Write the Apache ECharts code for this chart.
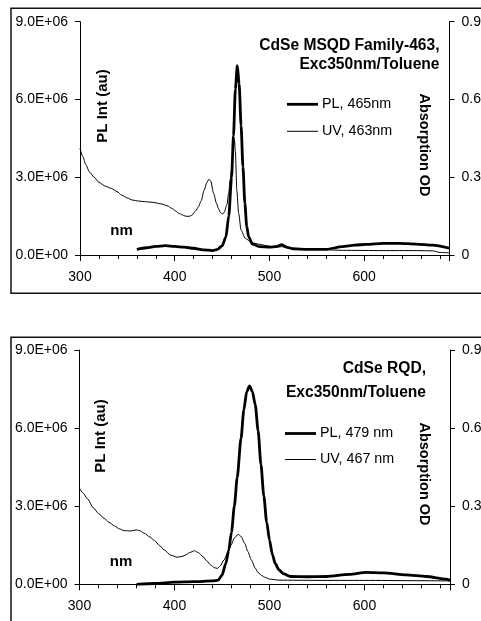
<!DOCTYPE html>
<html>
<head>
<meta charset="utf-8">
<script src="https://cdn.jsdelivr.net/npm/echarts@6/dist/echarts.min.js"></script>
<style>
html,body{margin:0;padding:0;background:#fff;}
#chart{width:481px;height:621px;}
</style>
</head>
<body>
<div id="chart"></div>
<script>
// ---------- data ----------
const X_TICKS = [300, 400, 500, 600];
const LEFT_TICKS = ['0.0E+00', '3.0E+06', '6.0E+06', '9.0E+06'];
const RIGHT_TICKS = ['0', '0.3', '0.6', '0.9'];

// Panel 1: CdSe MSQD Family-463
const PL1_NM = [360,370,380,390,400,410,420,430,440,445,450,454,457,460,462,464,466,468,470,472,474,476,478,482,490,500,508,513,518,525,540,560,577,590,602,620,637,655,672,690];
const PL1_VAL = [220000,280000,330000,360000,330000,300000,260000,200000,170000,220000,350000,700000,1500000,3000000,4600000,6400000,7300000,6600000,5000000,3400000,2000000,1100000,700000,420000,320000,300000,330000,400000,300000,240000,220000,220000,320000,380000,410000,450000,450000,420000,380000,260000];
const UV1_NM = [300,303,306,310,315,320,327,333,339,344,350,355,362,368,377,386,392,397,401,404,408,411,415,418,422,425,428,431,434,436,438,441,444,446,448,450,452,455,457,458.5,460,461,462,463,464,465.5,467.5,470,474.5,481.5,490,497,505,513,520,540,577,620,655,672,680,690];
const UV1_OD = [0.412,0.38,0.35,0.32,0.30,0.28,0.265,0.257,0.245,0.231,0.22,0.212,0.208,0.206,0.203,0.197,0.19,0.18,0.17,0.161,0.155,0.15,0.149,0.153,0.17,0.186,0.21,0.25,0.28,0.292,0.285,0.238,0.2,0.18,0.165,0.158,0.163,0.193,0.24,0.289,0.33,0.379,0.42,0.444,0.4,0.25,0.16,0.096,0.064,0.047,0.041,0.036,0.03,0.032,0.027,0.024,0.018,0.017,0.017,0.016,0.01,0.008];

// Panel 2: CdSe RQD
const PL2_NM = [360,380,400,420,440,446,450,454,457,460,463,466,470,473,476,479,482,485,488,491,494,497,500,503,506,510,515,522,540,560,584,602,620,644,665,686,690];
const PL2_VAL = [0,30000,80000,100000,130000,160000,350000,800000,1300000,2000000,3000000,4100000,5600000,6700000,7400000,7620000,7400000,6900000,5900000,4600000,3400000,2400000,1700000,1150000,800000,550000,400000,300000,290000,300000,380000,460000,440000,360000,300000,200000,150000];
const UV2_NM = [300,304,308,315,320,326,331,337,342,347,354,360,364,368,374,379,384,389,396,403,408,412,416,421,425,430,434,438,442,445,448,452,456,459.6,463,467,470,474,477,481,485,488,492,495,500,510,550,600,650,690];
const UV2_OD = [0.369,0.35,0.33,0.292,0.272,0.253,0.238,0.224,0.213,0.206,0.205,0.209,0.205,0.196,0.182,0.168,0.15,0.132,0.112,0.104,0.107,0.113,0.122,0.129,0.122,0.106,0.09,0.074,0.064,0.061,0.07,0.093,0.122,0.151,0.178,0.192,0.184,0.157,0.127,0.093,0.062,0.045,0.033,0.027,0.02,0.016,0.015,0.015,0.014,0.013];

const TITLES = [['CdSe MSQD Family-463,', 'Exc350nm/Toluene'], ['CdSe RQD,', 'Exc350nm/Toluene']];
const LEGENDS = [['PL, 465nm', 'UV, 463nm'], ['PL, 479 nm', 'UV, 467 nm']];
const Y_LEFT_NAME = 'PL Int (au)';
const Y_RIGHT_NAME = 'Absorption OD';
const X_NAME = 'nm';

// ---------- chart ----------
const FONT = 'Liberation Sans, Arial, sans-serif';
const zip = (a, b) => a.map((v, i) => [v, b[i]]);

const grids = [
  {left: 80, top: 21.7, width: 369.5, height: 233.3},
  {left: 79.5, top: 350, width: 370.5, height: 234.3}
];

// labelled axis: ticks every 20 nm, labels every 100 nm
function mkX(gi) {
  return {
    type: 'value', gridIndex: gi, min: 300, max: 690, interval: 20,
    position: 'bottom',
    axisLine: {show: true, onZero: false, lineStyle: {color: '#000', width: 1}},
    axisTick: {show: true, inside: false, length: 4, lineStyle: {color: '#000', width: 1}},
    axisLabel: {show: true, color: '#000', fontSize: 14, fontFamily: FONT, margin: 15,
      showMaxLabel: false,
      formatter: v => (X_TICKS.indexOf(v) >= 0 ? String(v) : '')},
    splitLine: {show: false}
  };
}
// overlay axis (same extent) carrying the longer major ticks only
function mkXMajor(gi) {
  return {
    type: 'value', gridIndex: gi, min: 300, max: 690, interval: 100,
    position: 'bottom',
    axisLine: {show: false, onZero: false},
    axisTick: {show: true, inside: false, length: 6, lineStyle: {color: '#000', width: 1}},
    axisLabel: {show: false},
    splitLine: {show: false}
  };
}
function mkY(gi, right) {
  return {
    type: 'value', gridIndex: gi, min: 0, max: right ? 0.9 : 9000000, interval: right ? 0.3 : 3000000,
    position: right ? 'right' : 'left',
    axisLine: {show: true, onZero: false, lineStyle: {color: '#000', width: 1}},
    axisTick: {show: true, inside: false, length: 5, lineStyle: {color: '#000', width: 1}},
    axisLabel: {color: '#000', fontSize: 14, fontFamily: FONT, margin: 12,
      formatter: (v) => {
        const i = Math.round(v / (right ? 0.3 : 3000000));
        return right ? RIGHT_TICKS[i] : LEFT_TICKS[i];
      }},
    splitLine: {show: false}
  };
}

function line(xi, yi, data, w) {
  return {
    type: 'line', xAxisIndex: xi, yAxisIndex: yi, data: data,
    symbol: 'none', showSymbol: false, smooth: 0.25, smoothMonotone: 'x',
    lineStyle: {color: '#000', width: w}, itemStyle: {color: '#000'},
    silent: true, animation: false
  };
}

const graphic = [];
// outer borders
graphic.push({type: 'rect', shape: {x: 11, y: 8.3, width: 490, height: 285}, style: {fill: 'none', stroke: '#111', lineWidth: 1.5}, silent: true});
graphic.push({type: 'rect', shape: {x: 11, y: 337.3, width: 490, height: 320}, style: {fill: 'none', stroke: '#111', lineWidth: 1.5}, silent: true});

const panelText = [
  {titleX: 439.5, t1: 45.5, t2: 64.5, legX1: 287, legX2: 318, legTX: 322, l1: 104.3, l2: 131.3, plX: 102.5, plY: 106, abX: 424, abY: 145, nmX: 121.5, nmY: 231},
  {titleX: 426, t1: 368.5, t2: 392.5, legX1: 285, legX2: 316, legTX: 320, l1: 433.5, l2: 459.5, plX: 101, plY: 436, abX: 424, abY: 474, nmX: 121, nmY: 562}
];
panelText.forEach((p, k) => {
  graphic.push({type: 'text', x: p.titleX, y: p.t1, style: {text: TITLES[k][0], font: 'bold 15.6px ' + FONT, fill: '#000', textAlign: 'right', textVerticalAlign: 'middle'}});
  graphic.push({type: 'text', x: p.titleX, y: p.t2, style: {text: TITLES[k][1], font: 'bold 15.6px ' + FONT, fill: '#000', textAlign: 'right', textVerticalAlign: 'middle'}});
  graphic.push({type: 'line', shape: {x1: p.legX1, y1: p.l1, x2: p.legX2, y2: p.l1}, style: {stroke: '#000', lineWidth: 2.8}});
  graphic.push({type: 'line', shape: {x1: p.legX1, y1: p.l2, x2: p.legX2, y2: p.l2}, style: {stroke: '#000', lineWidth: 1}});
  graphic.push({type: 'text', x: p.legTX, y: p.l1, style: {text: LEGENDS[k][0], font: '14.3px ' + FONT, fill: '#000', textAlign: 'left', textVerticalAlign: 'middle'}});
  graphic.push({type: 'text', x: p.legTX, y: p.l2, style: {text: LEGENDS[k][1], font: '14.3px ' + FONT, fill: '#000', textAlign: 'left', textVerticalAlign: 'middle'}});
  graphic.push({type: 'text', x: p.plX, y: p.plY, rotation: Math.PI / 2, style: {text: Y_LEFT_NAME, font: 'bold 15px ' + FONT, fill: '#000', textAlign: 'center', textVerticalAlign: 'middle'}});
  graphic.push({type: 'text', x: p.abX, y: p.abY, rotation: -Math.PI / 2, style: {text: Y_RIGHT_NAME, font: 'bold 14.5px ' + FONT, fill: '#000', textAlign: 'center', textVerticalAlign: 'middle'}});
  graphic.push({type: 'text', x: p.nmX, y: p.nmY, style: {text: X_NAME, font: 'bold 15px ' + FONT, fill: '#000', textAlign: 'center', textVerticalAlign: 'middle'}});
});

const option = {
  backgroundColor: '#fff',
  animation: false,
  grid: grids.map(g => Object.assign({containLabel: false, outerBoundsMode: 'none'}, g)),
  xAxis: [mkX(0), mkX(1), mkXMajor(0), mkXMajor(1)],
  yAxis: [mkY(0, false), mkY(0, true), mkY(1, false), mkY(1, true)],
  series: [
    line(0, 1, zip(UV1_NM, UV1_OD), 1),
    line(0, 0, zip(PL1_NM, PL1_VAL), 2.8),
    line(1, 3, zip(UV2_NM, UV2_OD), 1),
    line(1, 2, zip(PL2_NM, PL2_VAL), 2.8),
    // empty series so the major-tick overlay axes are laid out
    {type: 'line', xAxisIndex: 2, yAxisIndex: 0, data: [], symbol: 'none', silent: true},
    {type: 'line', xAxisIndex: 3, yAxisIndex: 2, data: [], symbol: 'none', silent: true}
  ],
  graphic: graphic
};

const chart = echarts.init(document.getElementById('chart'), null, {renderer: 'canvas'});
chart.setOption(option);
</script>
</body>
</html>
